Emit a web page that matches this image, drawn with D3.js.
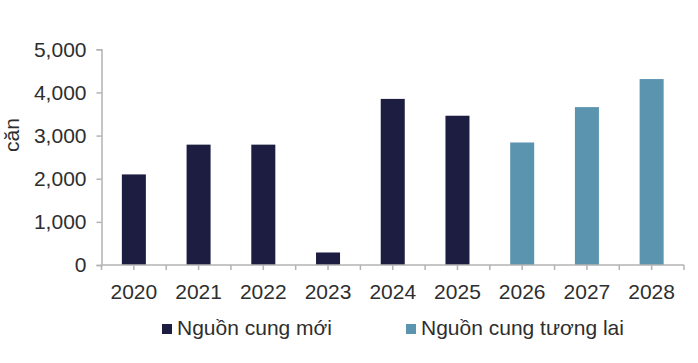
<!DOCTYPE html>
<html>
<head>
<meta charset="utf-8">
<script src="https://cdn.jsdelivr.net/npm/d3@7"></script>
<style>
  body { margin: 0; background: #fff; }
  text { font-family: "Liberation Sans", Arial, sans-serif; }
</style>
</head>
<body>
<svg id="chart" width="698" height="363"></svg>
<script>
const categories = ["2020","2021","2022","2023","2024","2025","2026","2027","2028"];
const values = [2100, 2790, 2790, 290, 3850, 3460, 2840, 3660, 4310];
const seriesOf = ["moi","moi","moi","moi","moi","moi","tuonglai","tuonglai","tuonglai"];
const seriesNames = ["Nguồn cung mới", "Nguồn cung tương lai"];
const seriesKeys = ["moi", "tuonglai"];
const yTicks = [0, 1000, 2000, 3000, 4000, 5000];
const yLabel = "căn";

const colors = { moi: "#1d1d42", tuonglai: "#5a94ae" };
const axisColor = "#b3b3b3";
const textColor = "#2e2e2e";
const fontSize = "21px";

const svg = d3.select("#chart");
const x = d3.scaleBand().domain(categories).range([101.5, 684]).paddingInner(0.629).paddingOuter(0.3145);
const y = d3.scaleLinear().domain([0, 5000]).range([265, 49.3]);

// bars
svg.append("g").selectAll("rect").data(categories).join("rect")
  .attr("x", d => x(d))
  .attr("width", x.bandwidth())
  .attr("y", (d, i) => y(values[i]))
  .attr("height", (d, i) => y(0) - y(values[i]))
  .attr("fill", (d, i) => colors[seriesOf[i]]);

// y axis
const yAxis = svg.append("g").attr("transform", `translate(${x.range()[0]},0)`)
  .call(d3.axisLeft(y).tickValues(yTicks).tickFormat(d3.format(",")).tickSize(5).tickPadding(10));
yAxis.select(".domain").attr("stroke", axisColor).attr("stroke-width", 1.5);
yAxis.selectAll(".tick line").attr("stroke", axisColor).attr("stroke-width", 1.5);
yAxis.selectAll(".tick text").attr("fill", textColor).style("font-size", fontSize)
  .style("font-family", '"Liberation Sans", Arial, sans-serif');

// x axis
const step = x.step();
const x0 = x.range()[0];
const tickPos = d3.range(categories.length * 2 + 1).map(k => x0 + k * step / 2);
const xAxis = svg.append("g");
xAxis.append("line").attr("x1", x.range()[0]).attr("x2", x.range()[1])
  .attr("y1", y(0)).attr("y2", y(0)).attr("stroke", axisColor).attr("stroke-width", 1.5);
xAxis.selectAll("line.t").data(tickPos).join("line").attr("class", "t")
  .attr("x1", d => d).attr("x2", d => d).attr("y1", y(0)).attr("y2", y(0) + 5)
  .attr("stroke", axisColor).attr("stroke-width", 1.5);
xAxis.selectAll("text").data(categories).join("text")
  .attr("x", d => x(d) + x.bandwidth() / 2)
  .attr("y", 299)
  .attr("text-anchor", "middle")
  .attr("fill", textColor).style("font-size", fontSize)
  .text(d => d);

// y label
svg.append("text")
  .attr("transform", "translate(19,135) rotate(-90)")
  .attr("text-anchor", "middle")
  .attr("fill", textColor).style("font-size", fontSize)
  .text(yLabel);

// legend
const legendX = [162, 406];
const lg = svg.append("g");
seriesKeys.forEach((k, i) => {
  lg.append("rect").attr("x", legendX[i]).attr("y", 324).attr("width", 10).attr("height", 10).attr("fill", colors[k]);
  lg.append("text").attr("x", legendX[i] + 15).attr("y", 335)
    .attr("fill", textColor).style("font-size", fontSize).text(seriesNames[i]);
});
</script>
</body>
</html>
